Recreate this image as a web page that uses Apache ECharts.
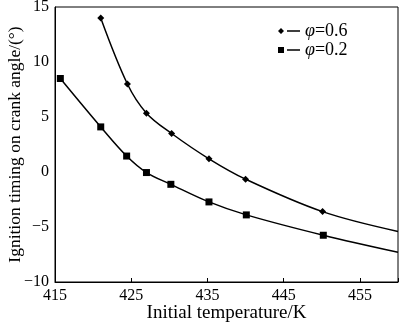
<!DOCTYPE html>
<html><head><meta charset="utf-8">
<script src="https://cdn.jsdelivr.net/npm/echarts@6/dist/echarts.min.js"></script>
<style>html,body{margin:0;padding:0;background:#fff}#c{width:400px;height:325px}</style>
</head><body><div id="c"></div>
<script>
const xTicks = [415, 425, 435, 445, 455];
const yTicks = [-10, -5, 0, 5, 10, 15];
const tempA = [421, 424.5, 427, 430.3, 435.2, 440, 450.1, 460];
const valA  = [14.0, 8.0, 5.35, 3.5, 1.2, -0.65, -3.6, -5.4];
const tempB = [415.7, 421, 424.4, 427, 430.2, 435.2, 440.1, 450.2, 460];
const valB  = [8.5, 4.1, 1.45, -0.05, -1.12, -2.72, -3.9, -5.75, -7.3];
const names = ['φ=0.6', 'φ=0.2'];

const font = 'Liberation Serif';
function mk(xs, ys) {
  return xs.map((x, i) => i === xs.length - 1 && x === 460 ? { value: [x, ys[i]], symbol: 'none' } : [x, ys[i]]);
}
const chart = echarts.init(document.getElementById('c'));
chart.setOption({
  animation: false,
  grid: { left: 55, top: 7, width: 343, height: 275, containLabel: false, outerBoundsMode: 'none' },
  legend: {
    orient: 'vertical', left: 278, top: 22, padding: 0, itemGap: 1, itemWidth: 22, itemHeight: 7,
    formatter: n => '{i|φ}{n|' + n.slice(1) + '}',
    textStyle: { fontFamily: font, fontSize: 18, color: '#000', lineHeight: 17,
      rich: { i: { fontStyle: 'italic', fontFamily: font, fontSize: 18, lineHeight: 17 },
              n: { fontFamily: font, fontSize: 18, lineHeight: 17 } } },
    data: [
      { name: names[0], icon: 'path://M0,3.5 L3,0.5 L6,3.5 L3,6.5 Z M9,2.8 L22,2.8 L22,4.2 L9,4.2 Z' },
      { name: names[1], icon: 'path://M0,0.5 L6,0.5 L6,6.5 L0,6.5 Z M9,2.8 L22,2.8 L22,4.2 L9,4.2 Z' }
    ]
  },
  xAxis: {
    type: 'value', min: 415, max: 460, interval: 10,
    name: 'Initial temperature/K', nameLocation: 'middle', nameGap: 22, nameMoveOverlap: false,
    nameTextStyle: { fontFamily: font, fontSize: 19, color: '#000' },
    axisLine: { show: true, onZero: false, lineStyle: { color: '#000', width: 1 } },
    axisTick: { show: true, inside: true, length: 4, lineStyle: { color: '#000' } },
    axisLabel: { fontFamily: font, fontSize: 16, color: '#000', margin: 6,
      formatter: v => xTicks.includes(v) ? String(v) : '' },
    splitLine: { show: false }
  },
  yAxis: {
    type: 'value', min: -10, max: 15, interval: 5,
    name: 'Ignition timing on crank angle/(°)', nameLocation: 'middle', nameGap: 31, nameMoveOverlap: false,
    nameTextStyle: { fontFamily: font, fontSize: 17.5, color: '#000' },
    axisLine: { show: true, onZero: false, lineStyle: { color: '#000', width: 1 } },
    axisTick: { show: false },
    axisLabel: { fontFamily: font, fontSize: 16, color: '#000', margin: 6,
      formatter: v => yTicks.includes(v) ? String(v).replace('-', '−') : '' },
    splitLine: { show: false }
  },
  graphic: [{
    type: 'rect', shape: { x: 55, y: 7, width: 343, height: 275 },
    style: { fill: 'none', stroke: '#000', lineWidth: 1 }, silent: true, z: 10
  }],
  series: [
    { name: names[0], type: 'line', smooth: 0.35, data: mk(tempA, valA),
      symbol: 'diamond', symbolSize: 7, itemStyle: { color: '#000' },
      lineStyle: { color: '#000', width: 1.5 } },
    { name: names[1], type: 'line', smooth: 0.35, data: mk(tempB, valB),
      symbol: 'rect', symbolSize: 7, itemStyle: { color: '#000' },
      lineStyle: { color: '#000', width: 1.5 } }
  ]
});
</script></body></html>
